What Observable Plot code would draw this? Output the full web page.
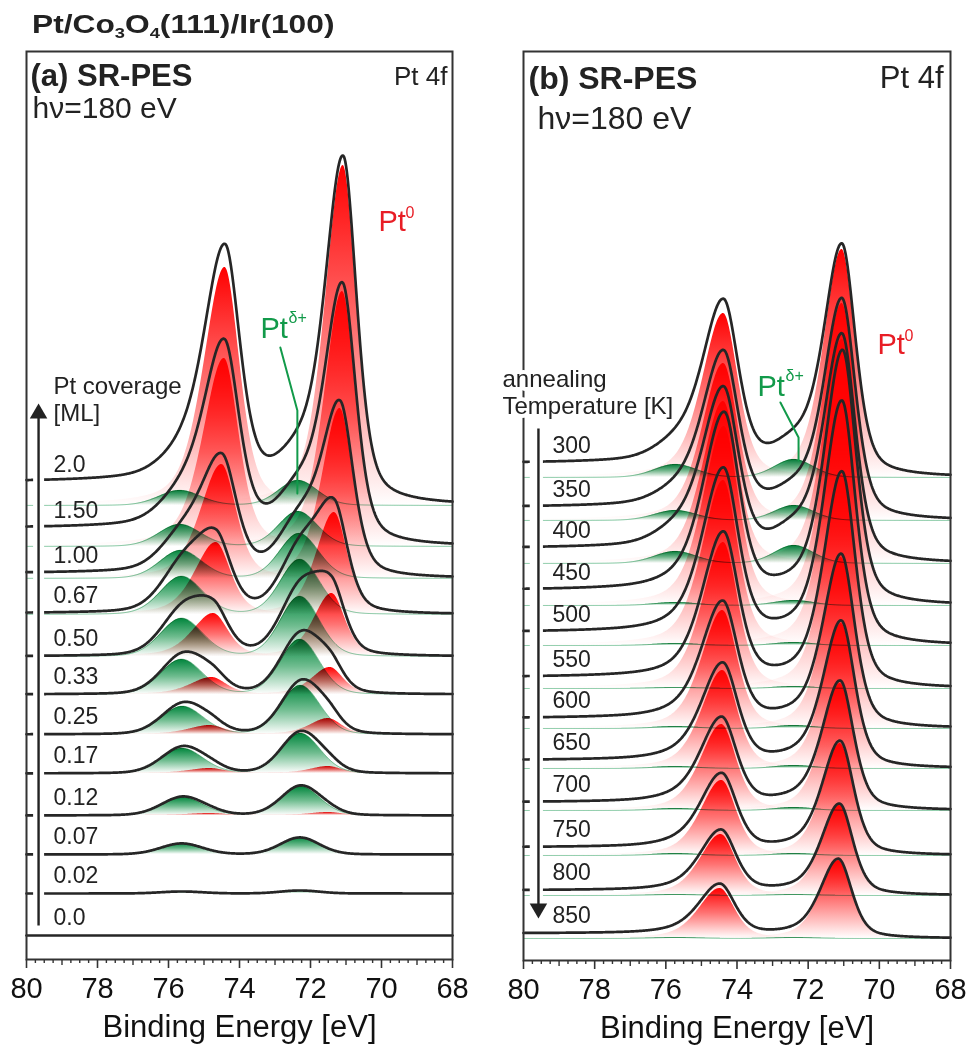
<!DOCTYPE html>
<html><head><meta charset="utf-8">
<script src="https://cdn.jsdelivr.net/npm/d3@7"></script>
<script src="https://cdn.jsdelivr.net/npm/@observablehq/plot@0.6"></script>
<style>
body{margin:0;background:#fff;font-family:"Liberation Sans",Arial,sans-serif;}
#wrap{position:relative;width:969px;height:1046px;overflow:hidden;background:#fff;}
#title{position:absolute;left:32px;top:11px;font-weight:bold;font-size:26px;line-height:26px;color:#222;white-space:nowrap;transform:scaleX(1.22);transform-origin:0 0;}
#title sub{font-size:15px;vertical-align:-5px;line-height:0;}
.panel{position:absolute;top:0;}
</style></head><body>
<div id="wrap">
<div id="pa" class="panel" style="left:0"></div>
<div id="pb" class="panel" style="left:480px"></div>
<div id="title">Pt/Co<sub>3</sub>O<sub>4</sub>(111)/Ir(100)</div>
</div>
<script>
// ---------------- data ----------------
const energyMax = 80, energyMin = 68;
const spinOrbitSplit = 3.33;
const majorTicks = [80, 78, 76, 74, 72, 70, 68];

// Panel (a): Pt coverage series [ML], top to bottom
const coverageLabels = ["2.0","1.50","1.00","0.67","0.50","0.33","0.25","0.17","0.12","0.07","0.02","0.0"];
const coverageOffset = [454,413,381,345,303,265,225,186,144,105,66,24];
const coverageStep   = [23,18,5,1,0,0,0,0,0,0,0,0];
const coveragePt0Pos = [71.08,71.10,71.17,71.33,71.40,71.45,71.50,71.50,71.50,71.50,71.50,71.50];
const coveragePt0_72 = [340,255,170,102,63,27,16,7,3,0,0,0];
const coveragePt0_52 = [238,188,114,72,43,17,9,5,2,0,0,0];
const coveragePtdPos = [72.35,72.35,72.32,72.30,72.30,72.30,72.28,72.28,72.28,72.30,72.30,72.30];
const coveragePtd_72 = [25,35,45,55,60,55,49,40,29,17,3,0];
const coveragePtd_52 = [15,22,28,38,38,35,28,25,18,11,2,0];

// Panel (b): annealing temperature series [K], top to bottom
const tempLabels = ["300","350","400","450","500","550","600","650","700","750","800","850"];
const tempOffset = [483,440,397,355,315,272,232,192,150,105,65,22];
const tempStep   = [14,13,15,15,13,11,10,8,8,8,5,5];
const tempPt0Pos = [71.05,71.05,71.05,71.03,71.05,71.05,71.07,71.07,71.10,71.10,71.12,71.15];
const tempPt0_72 = [228,217,224,250,240,213,171,145,127,112,90,78];
const tempPt0_52 = [164,157,162,179,165,146,118,98,86,75,61,50];
const tempPtdPos = [72.40,72.40,72.40,72.40,72.40,72.40,72.40,72.40,72.40,72.40,72.40,72.40];
const tempPtd_72 = [18,15,18,5,3,2,3,3,3,2,1,1];
const tempPtd_52 = [13,10,12,3,2,1,2,2,2,2,1,1];

// annotation anchors (energy, intensity)
const pointerA = [{E:72.85,v:612},{E:72.37,v:549},{E:72.37,v:466}];
const pointerB = [{E:72.78,v:558},{E:72.27,v:523},{E:72.27,v:500}];
const arrowA = {E:79.66, vLow:34, vHigh:546, vHead:546, rotate:0, m1:79.80, m2:79.49, mv1:34, mv2:546};
const arrowB = {E:79.58, vLow:52, vHigh:532, vHead:52, rotate:180, m1:79.81, m2:79.44, mv1:40, mv2:532};

// ---------------- model helpers ----------------
function profile(E, c) {
  const hw = E > c.pos ? c.hwL : c.hwR;
  const d = (E - c.pos) / hw;
  return c.eta / (1 + d * d) + (1 - c.eta) * Math.exp(-Math.LN2 * d * d);
}

function gradientDefs(id) {
  const defsSpec = [
    ["red", [[0, "#ff0000"], [0.5, "#ff7474"], [1, "#ffffff"]]],
    ["green", [[0, "#00853c"], [0.5, "#70bd90"], [1, "#ffffff"]]]
  ];
  return () => {
    const ns = "http://www.w3.org/2000/svg";
    const defs = document.createElementNS(ns, "defs");
    for (const [name, stops] of defsSpec) {
      const g = document.createElementNS(ns, "linearGradient");
      g.setAttribute("id", id + "-" + name);
      g.setAttribute("x1", "0"); g.setAttribute("y1", "0");
      g.setAttribute("x2", "0"); g.setAttribute("y2", "1");
      for (const [o, c] of stops) {
        const s = document.createElementNS(ns, "stop");
        s.setAttribute("offset", o); s.setAttribute("stop-color", c);
        g.appendChild(s);
      }
      defs.appendChild(g);
    }
    return defs;
  };
}

function buildPanel(cfg) {
  const n = Math.round((energyMax - energyMin) / 0.02);
  const grid = d3.range(n + 1).map(i => +(energyMax - i * 0.02).toFixed(2));
  const lineRows = [], redRows = [], greenRows = [], greenSum = [], labelRows = [];
  cfg.labels.forEach((lab, i) => {
    const comps = [
      {key:"r1", color:"red", pos:cfg.pt0Pos[i], amp:cfg.pt0a[i], hwL:0.60, hwR:0.45, eta:0.45},
      {key:"r2", color:"red", pos:cfg.pt0Pos[i] + spinOrbitSplit, amp:cfg.pt0b[i], hwL:0.70, hwR:0.50, eta:0.45},
      {key:"g1", color:"green", pos:cfg.ptdPos[i], amp:cfg.ptda[i], hwL:0.65, hwR:0.65, eta:0.15},
      {key:"g2", color:"green", pos:cfg.ptdPos[i] + spinOrbitSplit, amp:cfg.ptdb[i], hwL:0.70, hwR:0.70, eta:0.15}
    ];
    const vals = comps.map(c => grid.map(E => c.amp * profile(E, c)));
    const total = grid.map((E, j) => d3.sum(vals, v => v[j]));
    const cum = new Array(grid.length); let acc = 0;
    for (let j = grid.length - 1; j >= 0; j--) { acc += total[j]; cum[j] = acc; }
    const norm = acc || 1;
    const base = cfg.offset[i];
    grid.forEach((E, j) => {
      lineRows.push({trace: lab, E, y: base + cfg.step[i] * cum[j] / norm + total[j]});
      greenSum.push({trace: lab, E, y: base + vals[2][j] + vals[3][j]});
    });
    comps.forEach((c, k) => {
      if (c.amp <= 0) return;
      const target = c.color === "red" ? redRows : greenRows;
      grid.forEach((E, j) => target.push({key: lab + c.key, E, y1: base, y2: base + vals[k][j]}));
    });
    labelRows.push({label: lab, E: energyMax, y: base + cfg.step[i]});
  });

  const red = "#e81d25", green = "#129a4a", ink = "#222";
  const minor = d3.range(energyMin, energyMax + 0.001, 0.25).filter(d => Math.abs(d - Math.round(d)) > 0.01);
  const mid = d3.range(energyMin + 1, energyMax, 2);
  const A = cfg.arrow;
  const T = cfg.text;

  return Plot.plot({
    width: cfg.width, height: 1046,
    marginLeft: cfg.marginLeft, marginRight: cfg.marginRight, marginTop: 51, marginBottom: cfg.marginBottom,
    x: {domain: [energyMax, energyMin]},
    y: {domain: [0, cfg.yMax], axis: null},
    style: {fontFamily: "'Liberation Sans', Arial, sans-serif", fontSize: "29px", color: "#1a1a1a", background: "transparent", overflow: "visible"},
    marks: [
      gradientDefs(cfg.id),
      Plot.areaY(greenRows, {x: "E", y1: "y1", y2: "y2", z: "key", fill: `url(#${cfg.id}-green)`, mixBlendMode: "multiply"}),
      Plot.areaY(redRows, {x: "E", y1: "y1", y2: "y2", z: "key", fill: `url(#${cfg.id}-red)`, mixBlendMode: "multiply"}),
      Plot.line(greenSum, {x: "E", y: "y", z: "trace", stroke: "#1f9a55", strokeWidth: 1, strokeOpacity: 0.55, mixBlendMode: "multiply"}),
      Plot.line(lineRows, {x: "E", y: "y", z: "trace", stroke: "#262626", strokeWidth: 2.7}),
      Plot.rect([A], {x1: "m1", x2: "m2", y1: "mv1", y2: "mv2", fill: "white"}),
      Plot.link([A], {x1: "E", x2: "E", y1: "vLow", y2: "vHigh", stroke: ink, strokeWidth: 2.4}),
      Plot.dot([A], {x: "E", y: "vHead", symbol: "triangle", r: 6.5, fill: ink, stroke: "none", rotate: "rotate"}),
      Plot.line(cfg.pointer, {x: "E", y: "v", stroke: green, strokeWidth: 2}),
      Plot.frame({stroke: "#333", strokeWidth: 2}),
      Plot.text(labelRows, {x: "E", y: "y", text: "label", textAnchor: "start", lineAnchor: "middle", dx: cfg.labelDx, dy: -18, fontSize: 23, fill: ink}),
      Plot.text([cfg.axisNote], {frameAnchor: "top-left", lineAnchor: "middle", dx: cfg.noteDx, dy: cfg.noteDy, textAnchor: "start", fontSize: 24, lineHeight: 1.13, fill: ink, stroke: "white", strokeWidth: 8}),
      Plot.text([cfg.panelTag + " SR-PES"], {frameAnchor: "top-left", lineAnchor: "middle", dx: T.tagDx, dy: T.tagDy, textAnchor: "start", fontSize: T.tagSize, fontWeight: "bold", fill: ink}),
      Plot.text(["Pt 4f"], {frameAnchor: "top-right", lineAnchor: "middle", dx: T.edgeDx, dy: T.tagDy, textAnchor: "end", fontSize: T.edgeSize, fill: ink}),
      Plot.text(["hν=180 eV"], {frameAnchor: "top-left", lineAnchor: "middle", dx: T.hvDx, dy: T.hvDy, textAnchor: "start", fontSize: T.hvSize, fill: ink}),
      Plot.text(["Pt"], {frameAnchor: "top-left", lineAnchor: "middle", dx: cfg.pt0Dx, dy: cfg.pt0Dy, textAnchor: "start", fontSize: 29, fill: red}),
      Plot.text(["0"], {frameAnchor: "top-left", lineAnchor: "middle", dx: cfg.pt0Dx + 27, dy: cfg.pt0Dy - 9, textAnchor: "start", fontSize: 16, fill: red}),
      Plot.text(["Pt"], {frameAnchor: "top-left", lineAnchor: "middle", dx: cfg.ptdDx, dy: cfg.ptdDy, textAnchor: "start", fontSize: 29, fill: green}),
      Plot.text(["δ+"], {frameAnchor: "top-left", lineAnchor: "middle", dx: cfg.ptdDx + 28, dy: cfg.ptdDy - 11, textAnchor: "start", fontSize: 16, fill: green}),
      Plot.axisX({ticks: minor, tickSize: 4, tickFormat: () => "", label: null, stroke: "#333", strokeWidth: 1.4}),
      Plot.axisX({ticks: mid, tickSize: 6, tickFormat: () => "", label: null, stroke: "#333", strokeWidth: 1.4}),
      Plot.axisX({ticks: majorTicks, tickSize: 9, tickPadding: 9, tickFormat: d => String(d), label: null, stroke: "#333", strokeWidth: 1.6, fill: "#111"}),
      Plot.text(["Binding Energy [eV]"], {frameAnchor: "bottom", lineAnchor: "middle", dy: 68, fontSize: 31, fill: "#111"})
    ]
  });
}

const panelA = buildPanel({
  id: "pa", width: 480, marginLeft: 26, marginRight: 28, marginBottom: 87, yMax: 908,
  labels: coverageLabels, offset: coverageOffset, step: coverageStep,
  pt0Pos: coveragePt0Pos, pt0a: coveragePt0_72, pt0b: coveragePt0_52,
  ptdPos: coveragePtdPos, ptda: coveragePtd_72, ptdb: coveragePtd_52,
  pointer: pointerA, arrow: arrowA, labelDx: 27,
  axisNote: "Pt coverage\n[ML]", noteDx: 27, noteDy: 347,
  panelTag: "(a)",
  text: {tagDx: 4, tagDy: 25, tagSize: 31, edgeDx: -5, edgeSize: 26, hvDx: 6, hvDy: 57, hvSize: 30},
  pt0Dx: 352, pt0Dy: 170, ptdDx: 234, ptdDy: 277
});
const panelB = buildPanel({
  id: "pb", width: 489, marginLeft: 43, marginRight: 19, marginBottom: 86, yMax: 909,
  labels: tempLabels, offset: tempOffset, step: tempStep,
  pt0Pos: tempPt0Pos, pt0a: tempPt0_72, pt0b: tempPt0_52,
  ptdPos: tempPtdPos, ptda: tempPtd_72, ptdb: tempPtd_52,
  pointer: pointerB, arrow: arrowB, labelDx: 29,
  axisNote: "annealing\nTemperature [K]", noteDx: -21, noteDy: 340,
  panelTag: "(b)",
  text: {tagDx: 5, tagDy: 27, tagSize: 32, edgeDx: -7, edgeSize: 31, hvDx: 14, hvDy: 67, hvSize: 32},
  pt0Dx: 354, pt0Dy: 293, ptdDx: 234, ptdDy: 335
});
document.getElementById("pa").appendChild(panelA);
document.getElementById("pb").appendChild(panelB);
</script>
</body></html>
